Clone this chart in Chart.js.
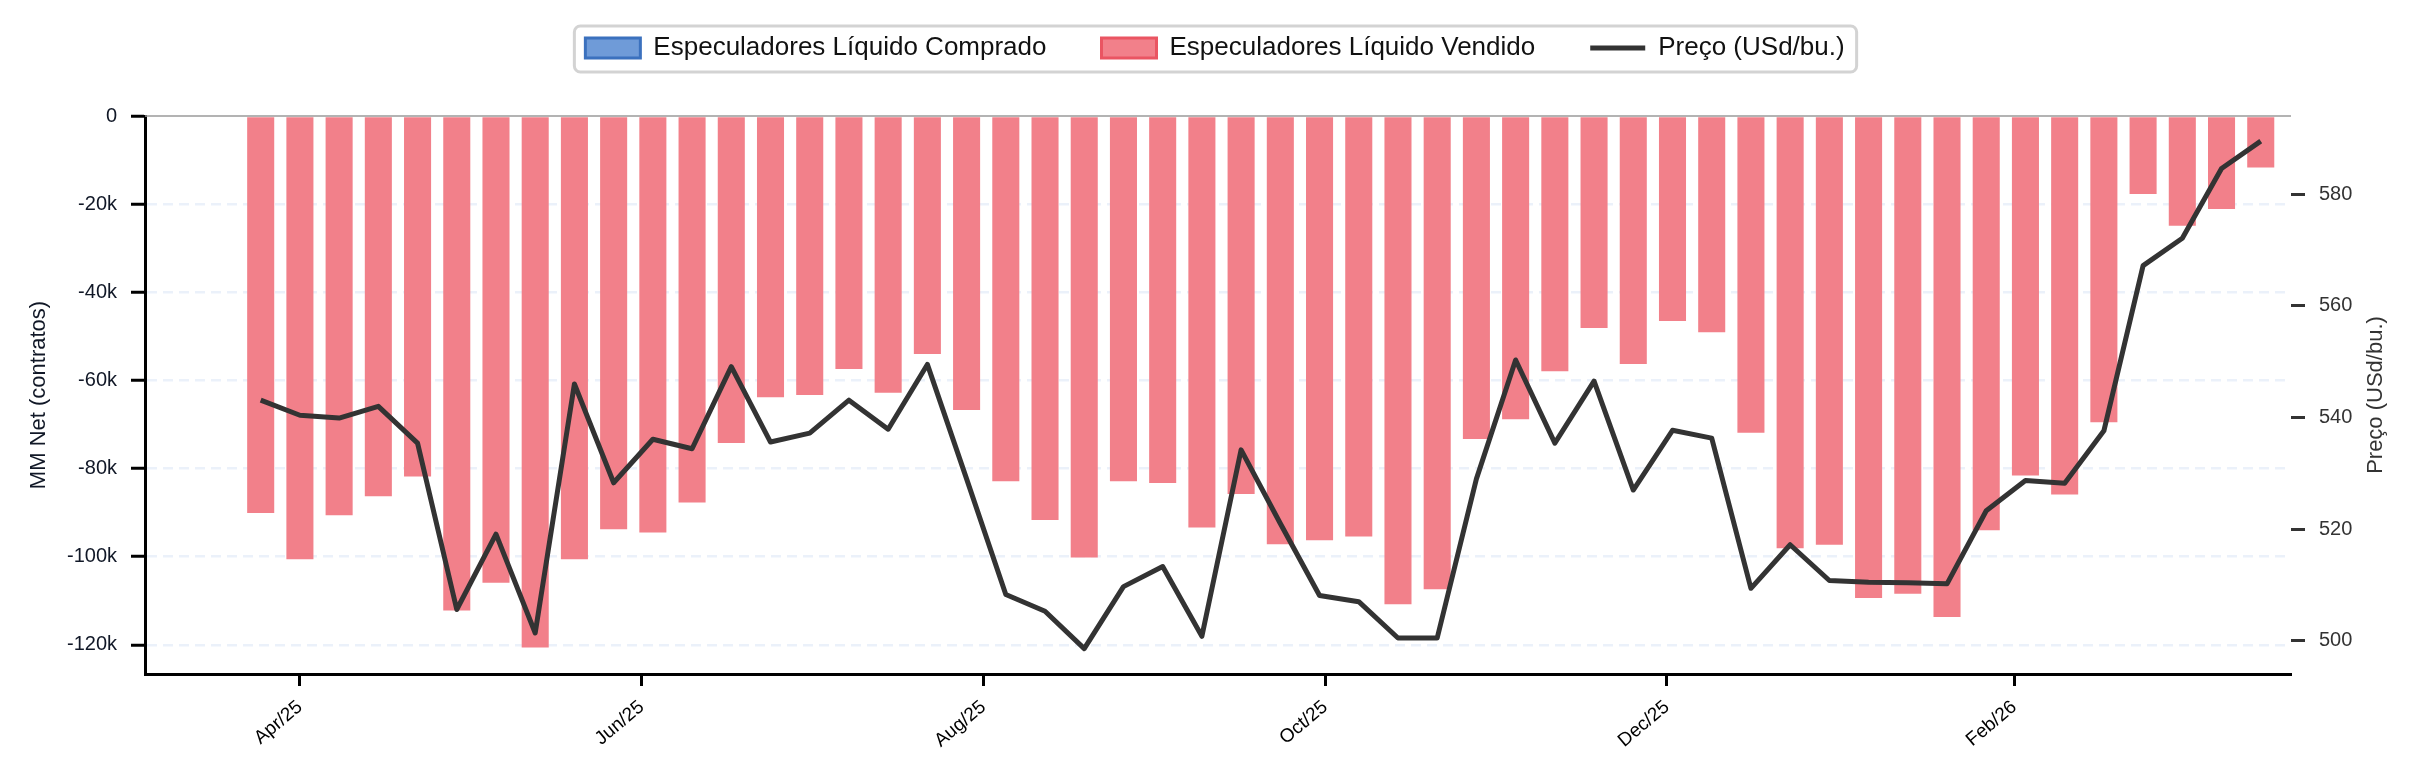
<!DOCTYPE html>
<html>
<head>
<meta charset="utf-8">
<script src="https://cdn.jsdelivr.net/npm/chart.js@4.4.1/dist/chart.umd.min.js"></script>
<style>
  html, body { margin: 0; padding: 0; background: #fff; }
</style>
</head>
<body>
<canvas id="cotChart" width="2416" height="781"></canvas>
<script>
// weekly COT report dates (Tuesdays)
const weeks = [
  '2025-03-25', '2025-04-01', '2025-04-08', '2025-04-15', '2025-04-22', '2025-04-29',
  '2025-05-06', '2025-05-13', '2025-05-20', '2025-05-27', '2025-06-03', '2025-06-10',
  '2025-06-17', '2025-06-24', '2025-07-01', '2025-07-08', '2025-07-15', '2025-07-22',
  '2025-07-29', '2025-08-05', '2025-08-12', '2025-08-19', '2025-08-26', '2025-09-02',
  '2025-09-09', '2025-09-16', '2025-09-23', '2025-09-30', '2025-10-07', '2025-10-14',
  '2025-10-21', '2025-10-28', '2025-11-04', '2025-11-11', '2025-11-18', '2025-11-25',
  '2025-12-02', '2025-12-09', '2025-12-16', '2025-12-23', '2025-12-30', '2026-01-06',
  '2026-01-13', '2026-01-20', '2026-01-27', '2026-02-03', '2026-02-10', '2026-02-17',
  '2026-02-24', '2026-03-03', '2026-03-10', '2026-03-17'
];

// managed money net position (contracts)
const mmNet = [
  -90100, -100600, -90600, -86300, -81800, -112200, -105900, -120600, -100600, -93800,
  -94500, -87700, -74200, -63800, -63300, -57400, -62800, -54000, -66700, -82900,
  -91700, -100200, -82900, -83300, -93400, -85800, -97200, -96300, -95400, -110800,
  -107400, -73300, -68800, -57900, -48100, -56300, -46500, -49100, -71900, -98100,
  -97300, -109400, -108400, -113700, -94000, -81600, -85900, -69500, -17700, -24900,
  -21100, -11700
];

// price (USd/bu.)
const price = [
  543.1, 540.4, 539.9, 542.0, 535.4, 505.6, 519.1, 501.4, 546.0, 528.3,
  536.1, 534.4, 549.1, 535.6, 537.2, 543.1, 537.9, 549.5, 529.0, 508.3,
  505.3, 498.6, 509.7, 513.3, 500.8, 534.2, 521.0, 508.1, 507.0, 500.5,
  500.5, 529.0, 550.3, 535.4, 546.5, 527.0, 537.7, 536.3, 509.4, 517.2,
  510.8, 510.5, 510.4, 510.2, 523.3, 528.7, 528.2, 537.6, 567.2, 572.1,
  584.6, 589.5
];

const monthTicks = ['2025-04-01', '2025-06-01', '2025-08-01', '2025-10-01', '2025-12-01', '2026-02-01'];
const netTicks = [-120000, -100000, -80000, -60000, -40000, -20000, 0];
const priceTicks = [500, 520, 540, 560, 580];
const monthNames = ['Jan', 'Feb', 'Mar', 'Apr', 'May', 'Jun', 'Jul', 'Aug', 'Sep', 'Oct', 'Nov', 'Dec'];

const FONT = "'Liberation Sans', Arial, Helvetica, sans-serif";
Chart.defaults.font.family = FONT;

function toDay(s) {
  const [y, m, d] = s.split('-').map(Number);
  return Date.UTC(y, m - 1, d) / 86400000;
}
function dayLabel(v) {
  const d = new Date(v * 86400000);
  return monthNames[d.getUTCMonth()] + '/' + String(d.getUTCFullYear()).slice(2);
}

const days = weeks.map(toDay);
const bought = mmNet.map(v => (v > 0 ? v : null));
const sold = mmNet.map(v => (v < 0 ? v : null));

// legend frame + moving the legend row up a bit
const legendFrame = {
  id: 'legendFrame',
  beforeInit(chart) {
    const lg = chart.legend;
    const fit = lg.fit;
    lg.fit = function () { fit.call(this); this.height = 116; };
  },
  afterLayout(chart) {
    chart.legend.top -= 20;
    chart.legend.bottom -= 20;
  },
  afterDraw(chart) {
    const hb = chart.legend.legendHitBoxes;
    if (!hb || !hb.length) return;
    const last = hb[hb.length - 1];
    const x0 = hb[0].left - 11, x1 = last.left + last.width + 12;
    const y0 = hb[0].top - 9, y1 = hb[0].top + hb[0].height + 11;
    const ctx = chart.ctx;
    ctx.save();
    ctx.strokeStyle = '#d3d3d3';
    ctx.lineWidth = 3;
    ctx.beginPath();
    ctx.roundRect(x0, y0, x1 - x0, y1 - y0, 6);
    ctx.stroke();
    ctx.restore();
  }
};

const zeroLine = {
  id: 'zeroLine',
  afterDatasetsDraw(chart) {
    const {ctx, chartArea} = chart;
    const y = chart.scales.y.getPixelForValue(0);
    ctx.save();
    ctx.strokeStyle = '#9a9a9a';
    ctx.lineWidth = 1.5;
    ctx.beginPath();
    ctx.moveTo(chartArea.left, y);
    ctx.lineTo(chartArea.right, y);
    ctx.stroke();
    ctx.restore();
  }
};

// right axis title reads bottom-to-top like the left one
const rightTitle = {
  id: 'rightTitle',
  afterDraw(chart) {
    const {ctx, chartArea} = chart;
    const s = chart.scales.y1;
    ctx.save();
    ctx.translate(s.right - 40, (chartArea.top + chartArea.bottom) / 2);
    ctx.rotate(-Math.PI / 2);
    ctx.font = '22px ' + FONT;
    ctx.fillStyle = '#333333';
    ctx.textAlign = 'center';
    ctx.textBaseline = 'middle';
    ctx.fillText('Preço (USd/bu.)', 0, 0);
    ctx.restore();
  }
};

const ctx = document.getElementById('cotChart').getContext('2d');
const chart = new Chart(ctx, {
  type: 'bar',
  data: {
    datasets: [
      {
        type: 'bar',
        label: 'Especuladores Líquido Comprado',
        data: days.map((x, i) => ({x: x, y: bought[i]})),
        backgroundColor: '#6f9bd8',
        borderColor: '#3b71be',
        yAxisID: 'y',
        order: 1,
        grouped: false,
        barPercentage: 0.69,
        categoryPercentage: 1
      },
      {
        type: 'bar',
        label: 'Especuladores Líquido Vendido',
        data: days.map((x, i) => ({x: x, y: sold[i]})),
        backgroundColor: '#f2808a',
        borderColor: '#ea5562',
        yAxisID: 'y',
        order: 1,
        grouped: false,
        barPercentage: 0.69,
        categoryPercentage: 1
      },
      {
        type: 'line',
        label: 'Preço (USd/bu.)',
        data: days.map((x, i) => ({x: x, y: price[i]})),
        borderColor: '#333333',
        backgroundColor: '#333333',
        borderWidth: 5,
        borderJoinStyle: 'round',
        pointRadius: 0,
        tension: 0,
        yAxisID: 'y1',
        order: 0
      }
    ]
  },
  options: {
    responsive: false,
    devicePixelRatio: 1,
    animation: false,
    layout: { padding: { left: 14, right: 0, top: 0, bottom: 0 } },
    plugins: {
      tooltip: { enabled: false },
      legend: {
        position: 'top',
        labels: {
          color: '#111111',
          font: { size: 26, family: FONT },
          usePointStyle: true,
          pointStyleWidth: 55,
          boxWidth: 55,
          boxHeight: 20,
          padding: 55,
          sort: (a, b) => a.datasetIndex - b.datasetIndex,
          generateLabels(chart) {
            const items = Chart.defaults.plugins.legend.labels.generateLabels(chart);
            items.forEach(it => {
              const ds = chart.data.datasets[it.datasetIndex];
              if (ds.type === 'line') {
                it.pointStyle = 'line';
                it.lineWidth = 5;
                it.strokeStyle = ds.borderColor;
              } else {
                it.pointStyle = 'rect';
                it.lineWidth = 3;
                it.fillStyle = ds.backgroundColor;
                it.strokeStyle = ds.borderColor;
              }
            });
            return items;
          }
        }
      }
    },
    scales: {
      x: {
        type: 'linear',
        min: toDay('2025-03-04') + 0.35,
        max: toDay('2026-03-22') + 0.4,
        offset: false,
        afterFit: s => { s.height = 107; },
        afterBuildTicks: s => { s.ticks = monthTicks.map(m => ({value: toDay(m)})); },
        grid: { offset: false, drawOnChartArea: false, tickLength: 12, tickWidth: 3, tickColor: '#000' },
        border: { color: '#000', width: 3 },
        ticks: {
          autoSkip: false,
          maxRotation: 40,
          minRotation: 40,
          padding: 10,
          color: '#000',
          font: { size: 19, family: FONT },
          callback: v => dayLabel(v)
        }
      },
      y: {
        position: 'left',
        min: -126630,
        max: 0,
        z: 1,
        afterFit: s => { s.width = 131; },
        afterBuildTicks: s => { s.ticks = netTicks.map(v => ({value: v})); },
        grid: {
          color: c => (c.tick && c.tick.value === 0 ? 'rgba(0,0,0,0)' : 'rgba(210,225,244,0.45)'),
          lineWidth: 2.5,
          tickColor: '#000',
          tickWidth: 3,
          tickLength: 14
        },
        border: { color: '#000', width: 3, dash: [10, 6] },
        ticks: {
          color: '#111827',
          padding: 14,
          font: { size: 20, family: FONT },
          callback: v => (v === 0 ? '0' : (v / 1000) + 'k')
        },
        title: {
          display: true,
          text: 'MM Net (contratos)',
          color: '#111827',
          font: { size: 22, family: FONT },
          padding: { top: 12, bottom: 0 }
        }
      },
      y1: {
        position: 'right',
        min: 494.05,
        max: 594.0,
        afterFit: s => { s.width = 125; },
        afterBuildTicks: s => { s.ticks = priceTicks.map(v => ({value: v})); },
        grid: { drawOnChartArea: false, tickColor: '#333333', tickWidth: 3, tickLength: 14 },
        border: { display: false },
        ticks: {
          color: '#333333',
          padding: 14,
          font: { size: 20, family: FONT }
        },
        title: { display: false }
      }
    }
  },
  plugins: [legendFrame, zeroLine, rightTitle]
});
</script>
</body>
</html>
